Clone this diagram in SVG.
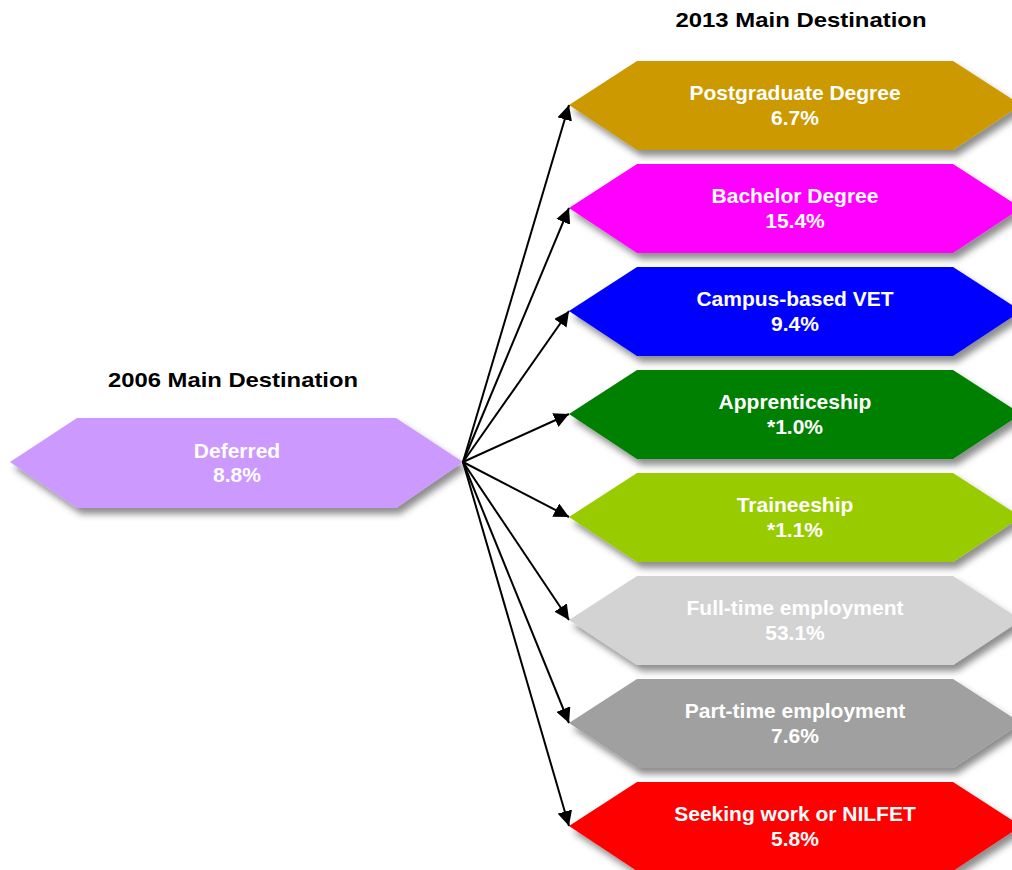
<svg xmlns="http://www.w3.org/2000/svg" width="1012" height="870" viewBox="0 0 1012 870">
<defs>
<filter id="sh" x="-10%" y="-20%" width="130%" height="160%">
<feDropShadow dx="4" dy="6" stdDeviation="3.5" flood-color="#000" flood-opacity="0.45"/>
</filter>
<marker id="ah" viewBox="0 0 10 10" refX="10" refY="5" markerWidth="15" markerHeight="15" markerUnits="userSpaceOnUse" orient="auto">
<path d="M0,0 L10,5 L0,10 z" fill="#000"/>
</marker>
</defs>
<style>
.lbl{font-family:"Liberation Sans",Arial,sans-serif;font-weight:bold;font-size:21px;fill:#fff;text-anchor:middle}
.ttl{font-family:"Liberation Sans",Arial,sans-serif;font-weight:bold;font-size:21px;fill:#000;text-anchor:middle}
.hex{filter:url(#sh)}
.con{stroke:#000;stroke-width:2;fill:none;marker-end:url(#ah)}
</style>
<rect width="1012" height="870" fill="#fff"/>
<text class="ttl" x="801" y="27" textLength="251" lengthAdjust="spacingAndGlyphs">2013 Main Destination</text>
<text class="ttl" x="233" y="387" textLength="250" lengthAdjust="spacingAndGlyphs">2006 Main Destination</text>
<g id="deferred">
<polygon class="hex" points="10,462 77,418 396,418 463,462 396,508 77,508" fill="#CC99FF"/>
<text class="lbl" x="237" y="458">Deferred</text>
<text class="lbl" x="237" y="482">8.8%</text>
</g>
<g id="postgraduate">
<polygon class="hex" points="569,105 637,61 953,61 1021,105 953,150 637,150" fill="#CC9900"/>
<text class="lbl" x="795" y="100">Postgraduate Degree</text>
<text class="lbl" x="795" y="125">6.7%</text>
</g>
<g id="bachelor">
<polygon class="hex" points="569,208 637,164 953,164 1021,208 953,253 637,253" fill="#FF00FF"/>
<text class="lbl" x="795" y="203">Bachelor Degree</text>
<text class="lbl" x="795" y="228">15.4%</text>
</g>
<g id="campus">
<polygon class="hex" points="569,311 637,267 953,267 1021,311 953,356 637,356" fill="#0000FF"/>
<text class="lbl" x="795" y="306">Campus-based VET</text>
<text class="lbl" x="795" y="331">9.4%</text>
</g>
<g id="apprenticeship">
<polygon class="hex" points="569,414 637,370 953,370 1021,414 953,459 637,459" fill="#008000"/>
<text class="lbl" x="795" y="409">Apprenticeship</text>
<text class="lbl" x="795" y="434">*1.0%</text>
</g>
<g id="traineeship">
<polygon class="hex" points="569,517 637,473 953,473 1021,517 953,562 637,562" fill="#99CC00"/>
<text class="lbl" x="795" y="512">Traineeship</text>
<text class="lbl" x="795" y="537">*1.1%</text>
</g>
<g id="fulltime">
<polygon class="hex" points="569,620 637,576 953,576 1021,620 953,665 637,665" fill="#D3D3D3"/>
<text class="lbl" x="795" y="615">Full-time employment</text>
<text class="lbl" x="795" y="640">53.1%</text>
</g>
<g id="parttime">
<polygon class="hex" points="569,723 637,679 953,679 1021,723 953,768 637,768" fill="#A0A0A0"/>
<text class="lbl" x="795" y="718">Part-time employment</text>
<text class="lbl" x="795" y="743">7.6%</text>
</g>
<g id="seeking">
<polygon class="hex" points="569,826 637,782 953,782 1021,826 953,871 637,871" fill="#FF0000"/>
<text class="lbl" x="795" y="821">Seeking work or NILFET</text>
<text class="lbl" x="795" y="846">5.8%</text>
</g>
<g id="connectors">
<line class="con" x1="463" y1="462" x2="569" y2="105"/>
<line class="con" x1="463" y1="462" x2="569" y2="208"/>
<line class="con" x1="463" y1="462" x2="569" y2="311"/>
<line class="con" x1="463" y1="462" x2="569" y2="414"/>
<line class="con" x1="463" y1="462" x2="569" y2="517"/>
<line class="con" x1="463" y1="462" x2="569" y2="620"/>
<line class="con" x1="463" y1="462" x2="569" y2="723"/>
<line class="con" x1="463" y1="462" x2="569" y2="826"/>
</g>
</svg>
